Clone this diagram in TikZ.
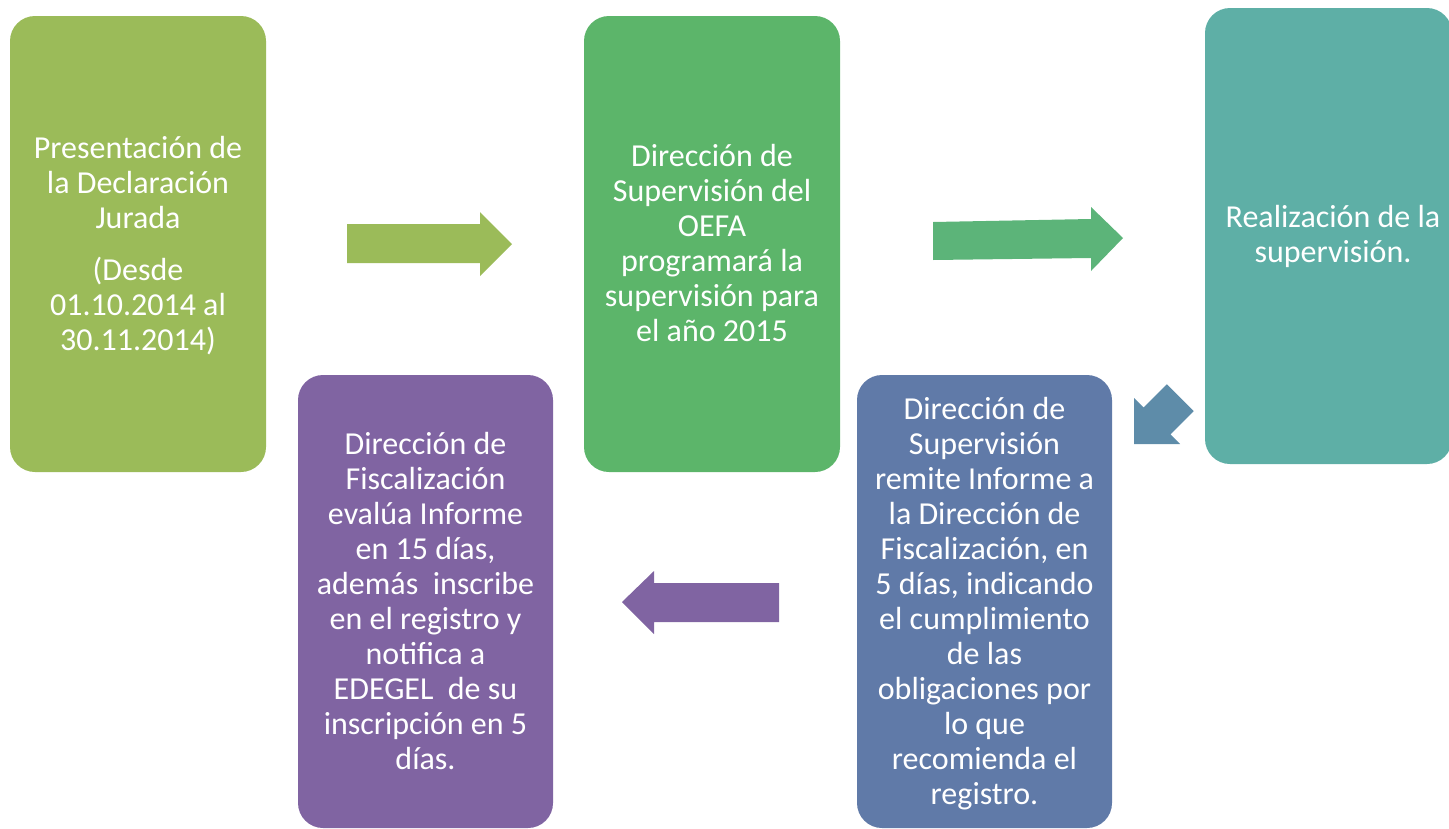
\documentclass[tikz,border=0pt]{standalone}
\usepackage{fontspec}
\setmainfont{Carlito}
\definecolor{cA}{HTML}{9BBB59}
\definecolor{cB}{HTML}{5CB56A}
\definecolor{cC}{HTML}{5EAFA6}
\definecolor{cD}{HTML}{8064A2}
\definecolor{cE}{HTML}{607AA8}
\definecolor{arB}{HTML}{5CB479}
\definecolor{arC}{HTML}{5E8CA9}
\begin{document}
\begin{tikzpicture}[x=1pt,y=-1pt,
  box/.style={rounded corners=25pt, inner sep=0pt, outer sep=0pt, draw=none},
  lbl/.style={text=white, align=center, inner sep=0pt, font=\fontsize{32}{35}\selectfont}]
\useasboundingbox (0,0) rectangle (1449,828);
% boxes
\node[box, fill=cA, minimum width=256pt, minimum height=456pt] (b1) at (138,244) {};
\node[box, fill=cB, minimum width=256pt, minimum height=456pt] (b2) at (712,244) {};
\node[box, fill=cC, minimum width=247pt, minimum height=456pt] (b3) at (1328.5,236) {};
\node[box, fill=cD, minimum width=255pt, minimum height=453pt] (b4) at (425.5,601.5) {};
\node[box, fill=cE, minimum width=255pt, minimum height=453pt] (b5) at (984.5,601.5) {};
% texts
\node[lbl] (t1) at (138,247) {\strut Presentación de\\ la Declaración\\ Jurada\\[17pt] (Desde\\ 01.10.2014 al\\ 30.11.2014)\strut};
\node[lbl] (t2) at (712,246.5) {\strut Dirección de\\ Supervisión del\\ OEFA\\ programará la\\ supervisión para\\ el año 2015\strut};
\node[lbl] (t3) at (1333,238) {\strut Realización de la\\ supervisión.\strut};
\node[lbl] (t4) at (425.5,604.5) {\strut Dirección de\\ Fiscalización\\ evalúa Informe\\ en 15 días,\\ además~~inscribe\\ en el registro y\\ notifica a\\ EDEGEL~~de su\\ inscripción en 5\\ días.\strut};
\node[lbl] (t5) at (984.5,604.5) {\strut Dirección de\\ Supervisión\\ remite Informe a\\ la Dirección de\\ Fiscalización, en\\ 5 días, indicando\\ el cumplimiento\\ de las\\ obligaciones por\\ lo que\\ recomienda el\\ registro.\strut};
% block arrows
\fill[cA] (347,224) -- (480,224) -- (480,212) -- (512,244) -- (480,276) -- (480,263) -- (347,263) -- cycle;
\fill[arB] (933,222) -- (1091,219) -- (1091,207) -- (1123,238) -- (1091,271) -- (1091,258) -- (933,260) -- cycle;
\fill[arC] (1134,444) -- (1134,398) -- (1143.6,407.6) -- (1166.9,384.3) -- (1193.7,411.1) -- (1170.4,434.4) -- (1180,444) -- cycle;
\fill[cD] (622,602) -- (654,571) -- (654,583) -- (779,583) -- (779,622) -- (654,622) -- (654,634) -- cycle;
\end{tikzpicture}
\end{document}
